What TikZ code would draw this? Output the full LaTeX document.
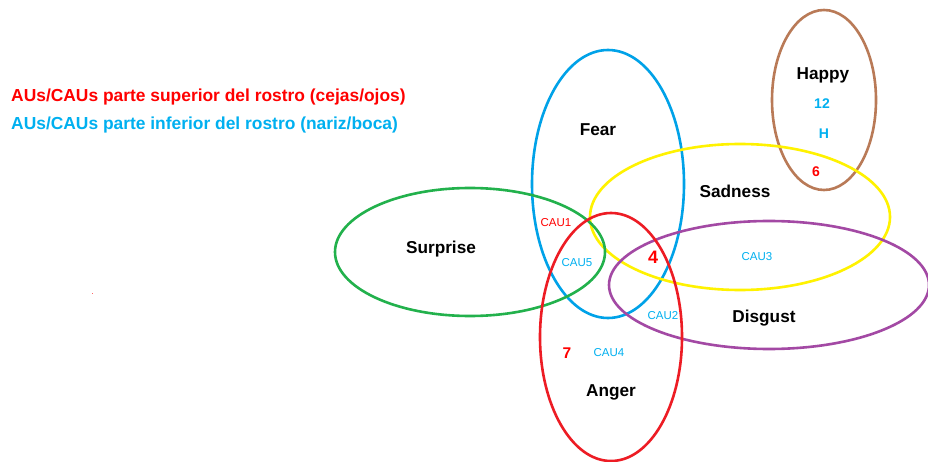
\documentclass[tikz,border=0pt]{standalone}
\usepackage{fontspec}
\setmainfont{Liberation Sans}
\definecolor{cred}{HTML}{ED1C24}
\definecolor{tred}{HTML}{FF0000}
\definecolor{cblue}{HTML}{00A2E8}
\definecolor{tblue}{HTML}{00B0F0}
\definecolor{cgreen}{HTML}{22B14C}
\definecolor{cyellow}{HTML}{FFF200}
\definecolor{cpurple}{HTML}{A349A4}
\definecolor{cbrown}{HTML}{B97A57}
\tikzset{
  ell/.style={line width=2.6pt},
  emo/.style={font=\fontsize{17.2}{19}\selectfont\bfseries, text=black, inner sep=0pt},
  cau/.style={font=\fontsize{11.5}{13}\selectfont, inner sep=0pt},
  num/.style={font=\fontsize{14}{16}\selectfont\bfseries, inner sep=0pt},
  legend/.style={font=\fontsize{17.4}{20}\selectfont\bfseries, inner sep=0pt, anchor=west}
}
\begin{document}
\begin{tikzpicture}[x=1pt,y=-1pt]
\useasboundingbox[fill=white] (0,0) rectangle (928,462);
% ellipses
\draw[ell, cbrown] (824,100) ellipse [x radius=52, y radius=90];
\draw[ell, cblue] (608,184) ellipse [x radius=76, y radius=134];
\draw[ell, cyellow] (740,217) ellipse [x radius=150, y radius=73];
\draw[ell, cgreen] (470,252) ellipse [x radius=135, y radius=64];
\draw[ell, cpurple] (769,285) ellipse [x radius=160, y radius=64];
\draw[ell, cred] (611,337) ellipse [x radius=71, y radius=124];
% legend
\node[legend, text=tred] (leg1) at (11,97) {AUs/CAUs parte superior del rostro (cejas/ojos)};
\node[legend, text=tblue] (leg2) at (11,125) {AUs/CAUs parte inferior del rostro (nariz/boca)};
\fill[tred!60] (91.5,292.5) rectangle (93,294);
% emotion labels
\node[emo] (happy) at (823,75) {Happy};
\node[emo] (fear) at (598,130) {Fear};
\node[emo] (sadness) at (735,191) {Sadness};
\node[emo] (surprise) at (441,249) {Surprise};
\node[emo] (disgust) at (764,318) {Disgust};
\node[emo] (anger) at (611,392) {Anger};
% AU labels
\node[num, text=tblue] (n12) at (822,104) {12};
\node[num, text=tblue] (nH) at (824,134) {H};
\node[num, text=tred] (n6) at (816,172) {6};
\node[cau, text=tred] (cau1) at (556,223) {CAU1};
\node[cau, text=tblue] (cau5) at (577,263) {CAU5};
\node[num, text=tred, font=\fontsize{18}{20}\selectfont\bfseries] (n4) at (653,257) {4};
\node[cau, text=tblue] (cau3) at (757,257) {CAU3};
\node[cau, text=tblue] (cau2) at (663,316) {CAU2};
\node[num, text=tred, font=\fontsize{15.5}{17}\selectfont\bfseries] (n7) at (567,353) {7};
\node[cau, text=tblue] (cau4) at (609,353) {CAU4};
\end{tikzpicture}
\end{document}
